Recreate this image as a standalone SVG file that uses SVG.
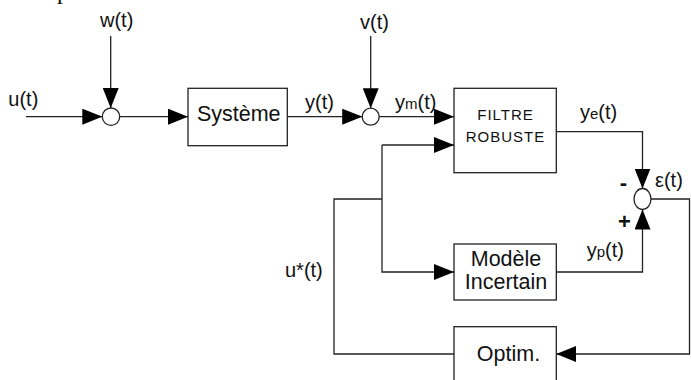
<svg xmlns="http://www.w3.org/2000/svg" width="691" height="380" viewBox="0 0 691 380">
  <style>
    .box { fill: #fff; stroke: #222; stroke-width: 1.3; }
    .sum { fill: #fff; stroke: #222; stroke-width: 1.3; }
    .wire { fill: none; stroke: #222; stroke-width: 1.3; }
    .arr { marker-end: url(#head); }
    .lbl { font-family: "Liberation Sans", Arial, sans-serif; font-size: 20px; fill: #111; }
    .btxt { font-family: "Liberation Sans", Arial, sans-serif; font-size: 21.5px; fill: #111; text-anchor: middle; }
    .caps { font-family: "Liberation Sans", Arial, sans-serif; font-size: 15px; letter-spacing: 1px; fill: #111; text-anchor: middle; }
    .sub { font-size: 15px; }
    .sign { font-family: "Liberation Sans", Arial, sans-serif; font-size: 22px; font-weight: bold; fill: #111; text-anchor: middle; }
  </style>
  <defs>
    <marker id="head" markerUnits="userSpaceOnUse" markerWidth="20" markerHeight="16" refX="20" refY="8" orient="auto">
      <path d="M0,0 L20,8 L0,16 z" fill="#000"/>
    </marker>
  </defs>

  <rect width="691" height="380" fill="#fff"/>

  <!-- descender of a line of text running off the top edge -->
  <text x="57" y="-1" font-family="Liberation Serif, serif" font-size="24" fill="#111">p</text>

  <!-- connectors -->
  <g id="connectors">
    <path class="wire arr" d="M26,116.7 H102.3"/>
    <path class="wire arr" d="M110.7,36 V108"/>
    <path class="wire arr" d="M119.7,116.7 H188"/>
    <path class="wire arr" d="M287.3,116.7 H362.2"/>
    <path class="wire arr" d="M370.7,36 V108.2"/>
    <path class="wire arr" d="M379.2,116.7 H454"/>
    <path class="wire arr" d="M382,145 H454"/>
    <path class="wire arr" d="M382,145 V272 H454"/>
    <path class="wire" d="M454,354 H334 V199 H382"/>
    <path class="wire arr" d="M556.3,131.7 H642.5 V188.5"/>
    <path class="wire arr" d="M556.3,272 H642.5 V209.5"/>
    <path class="wire arr" d="M651,199 H689.5 V354 H556.3"/>
  </g>

  <!-- summing junctions -->
  <g id="sum1"><circle class="sum" cx="111" cy="116.7" r="8.7"/></g>
  <g id="sum2"><circle class="sum" cx="370.7" cy="116.7" r="8.5"/></g>
  <g id="sum3">
    <ellipse class="sum" cx="642.5" cy="199" rx="8.5" ry="10.5"/>
    <text class="sign" x="623.5" y="190">-</text>
    <text class="sign" x="624.5" y="229">+</text>
  </g>

  <!-- blocks -->
  <g id="systeme">
    <rect class="box" x="188" y="88.3" width="99.3" height="57.4"/>
    <text class="btxt" x="238.7" y="120.7">Système</text>
  </g>
  <g id="filtre">
    <rect class="box" x="454" y="88.3" width="102.3" height="84.4"/>
    <text class="caps" x="505.5" y="120">FILTRE</text>
    <text class="caps" x="505.5" y="141.7">ROBUSTE</text>
  </g>
  <g id="modele">
    <rect class="box" x="454" y="244" width="102.3" height="56"/>
    <text class="btxt" x="506" y="265.7">Modèle</text>
    <text class="btxt" x="506" y="289.3">Incertain</text>
  </g>
  <g id="optim">
    <rect class="box" x="454" y="326.7" width="102.3" height="70"/>
    <text class="btxt" x="508.5" y="360.7">Optim.</text>
  </g>

  <!-- signal labels -->
  <g id="labels">
    <text class="lbl" x="8.3" y="106">u(t)</text>
    <text class="lbl" x="100" y="26.7">w(t)</text>
    <text class="lbl" x="305" y="109">y(t)</text>
    <text class="lbl" x="360" y="28.5">v(t)</text>
    <text class="lbl" x="395" y="109">y<tspan class="sub">m</tspan>(t)</text>
    <text class="lbl" x="580" y="119.3">y<tspan class="sub">e</tspan>(t)</text>
    <text class="lbl" x="586.7" y="256.7">y<tspan class="sub">p</tspan>(t)</text>
    <text class="lbl" x="655" y="186.7">ε(t)</text>
    <text class="lbl" x="285" y="276.7">u*(t)</text>
  </g>
</svg>
